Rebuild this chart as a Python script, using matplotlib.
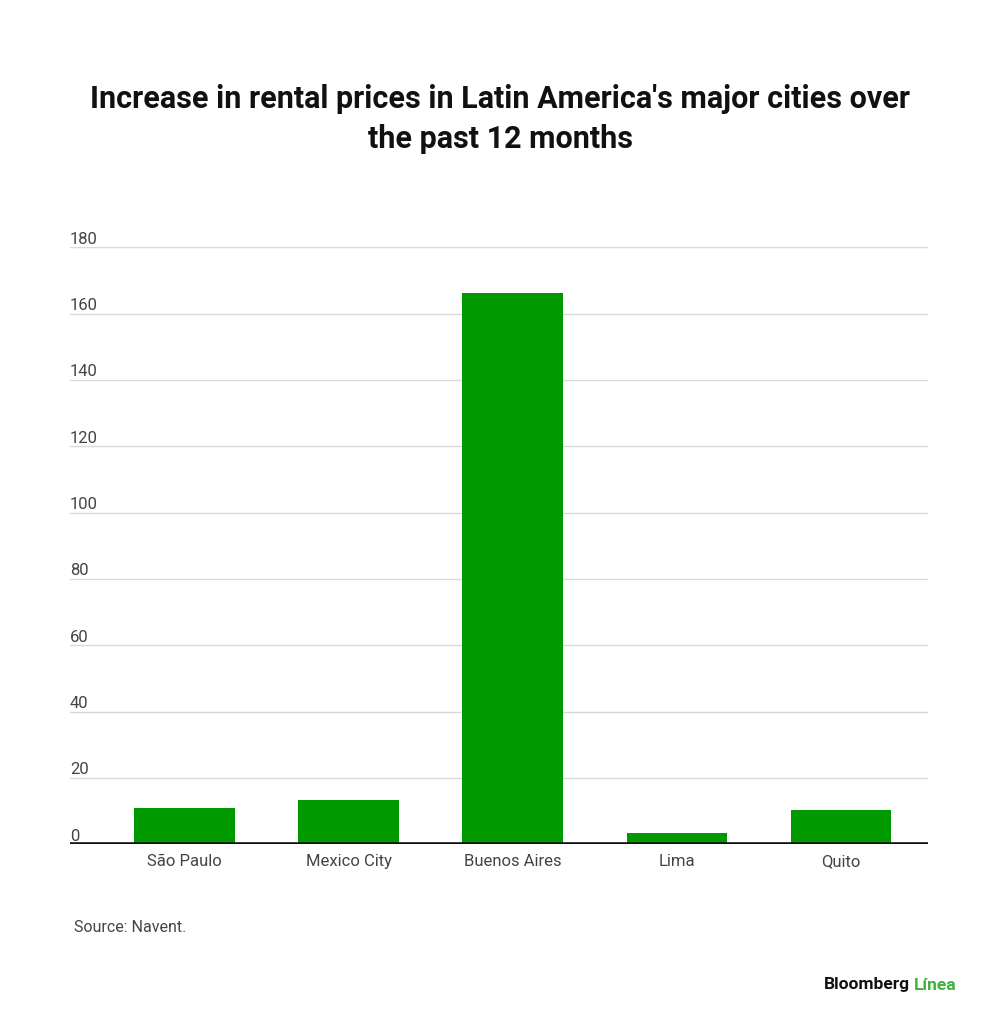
import matplotlib
matplotlib.use("Agg")
import matplotlib.pyplot as plt

cities = ["São Paulo", "Mexico City", "Buenos Aires", "Lima", "Quito"]
values = [11.0, 13.3, 166.3, 3.3, 10.3]
yticks = [0, 20, 40, 60, 80, 100, 120, 140, 160, 180]

title = "Increase in rental prices in Latin America's major cities over\nthe past 12 months"
source = "Source: Navent."

plt.rcParams['font.family'] = ['Roboto', 'DejaVu Sans']

fig = plt.figure(figsize=(10, 10.28), dpi=100)
W, H = 1000, 1028
ax = fig.add_axes([70 / W, 1 - 844.3 / H, (928 - 70) / W, (844.3 - 247.3) / H])

x = list(range(len(cities)))
ax.bar(x, values, width=0.615, color="#009a00", zorder=3)
ax.set_xlim(-0.70, 4.53)
ax.set_ylim(0, 180)

for t in yticks:
    if t > 0:
        ax.axhline(t, color="#d9d9d9", lw=1, zorder=1)
    ax.text(0, t + 0.2, str(t), transform=ax.get_yaxis_transform(), ha="left", va="bottom",
            fontsize=12, color="#444444")
ax.axhline(0, color="#111111", lw=2.6, zorder=4)

ax.set_yticks([])
ax.set_xticks(x)
ax.set_xticklabels(cities, fontsize=12, color="#444444")
ax.tick_params(axis="x", length=0, pad=7)
for s in ax.spines.values():
    s.set_visible(False)

fig.text(0.5, 1 - 119 / H, title, ha="center", va="center", fontsize=22,
         fontweight="bold", color="#111111", linespacing=1.42)
fig.text(74 / W, 1 - 928 / H, source, ha="left", va="center", fontsize=11.5, color="#444444")
fig.text(910 / W, 1 - 985 / H, "Bloomberg", ha="right", va="center", fontsize=12.5,
         fontweight="bold", color="#111111")
fig.text(914 / W, 1 - 985 / H, "Línea", ha="left", va="center", fontsize=12.5,
         fontweight="bold", color="#3cb43c")

fig.savefig("out.png", dpi=100, facecolor="white")
